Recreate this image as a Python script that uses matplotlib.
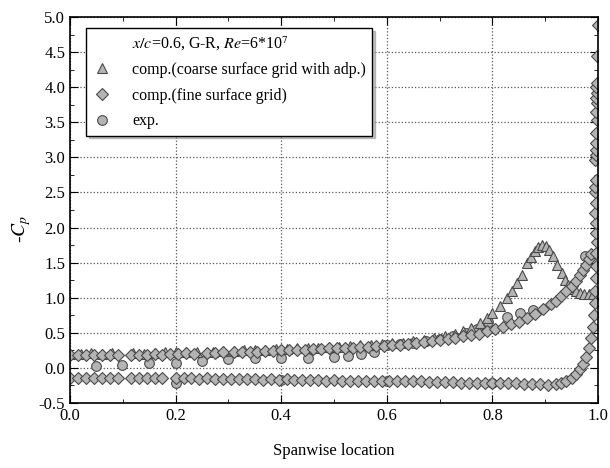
import matplotlib.pyplot as plt
from matplotlib.lines import Line2D
from matplotlib.ticker import MultipleLocator

plt.rcParams['font.family'] = ['Liberation Serif', 'DejaVu Serif']
plt.rcParams['mathtext.fontset'] = 'stix'

# comp. (fine surface grid) - upper surface
fine_up_x = [0.0, 0.015, 0.03, 0.045, 0.06, 0.075, 0.09, 0.115, 0.13, 0.145, 0.16, 0.175,
             0.19, 0.205, 0.22, 0.235, 0.26, 0.275, 0.29, 0.31, 0.325, 0.34, 0.355, 0.37,
             0.385, 0.40, 0.415, 0.43, 0.445, 0.46, 0.475, 0.49, 0.505, 0.52, 0.535, 0.55,
             0.565, 0.58, 0.595, 0.61, 0.625, 0.64, 0.655, 0.67, 0.685, 0.70, 0.715, 0.73,
             0.745, 0.76, 0.775, 0.79, 0.805, 0.82, 0.835, 0.85, 0.865, 0.88, 0.895, 0.91,
             0.92, 0.93, 0.94, 0.95, 0.958, 0.966, 0.972, 0.978, 0.983, 0.987]
fine_up_y = [0.18, 0.19, 0.18, 0.19, 0.18, 0.19, 0.18, 0.19, 0.18, 0.19, 0.20, 0.19,
             0.20, 0.20, 0.21, 0.20, 0.21, 0.21, 0.22, 0.22, 0.22, 0.23, 0.23, 0.24,
             0.24, 0.25, 0.25, 0.26, 0.26, 0.27, 0.27, 0.28, 0.28, 0.29, 0.29, 0.30,
             0.30, 0.31, 0.31, 0.32, 0.33, 0.34, 0.35, 0.37, 0.38, 0.40, 0.41, 0.43,
             0.45, 0.47, 0.49, 0.52, 0.55, 0.58, 0.62, 0.66, 0.71, 0.77, 0.84, 0.91,
             0.96, 1.02, 1.09, 1.17, 1.24, 1.32, 1.39, 1.47, 1.55, 1.63]

# comp. (fine surface grid) - lower surface
fine_lo_x = [0.0, 0.015, 0.03, 0.045, 0.06, 0.075, 0.09, 0.115, 0.13, 0.145, 0.16, 0.175,
             0.2, 0.215, 0.23, 0.245, 0.26, 0.275, 0.29, 0.305, 0.32, 0.335, 0.35, 0.365,
             0.38, 0.395, 0.41, 0.425, 0.44, 0.455, 0.47, 0.485, 0.50, 0.515, 0.53, 0.545,
             0.56, 0.575, 0.59, 0.605, 0.62, 0.635, 0.65, 0.665, 0.68, 0.695, 0.71, 0.725,
             0.74, 0.755, 0.77, 0.785, 0.80, 0.815, 0.83, 0.845, 0.86, 0.875, 0.89, 0.905,
             0.92, 0.93, 0.94, 0.95, 0.958, 0.965, 0.972, 0.978, 0.983, 0.987, 0.99]
fine_lo_y = [-0.14, -0.15, -0.14, -0.15, -0.14, -0.15, -0.14, -0.15, -0.14, -0.15, -0.15, -0.14,
             -0.15, -0.15, -0.15, -0.16, -0.15, -0.16, -0.16, -0.16, -0.16, -0.16, -0.16, -0.17,
             -0.16, -0.17, -0.16, -0.17, -0.17, -0.17, -0.17, -0.18, -0.17, -0.18, -0.18, -0.18,
             -0.18, -0.18, -0.18, -0.19, -0.19, -0.19, -0.19, -0.19, -0.20, -0.20, -0.20, -0.20,
             -0.21, -0.21, -0.21, -0.21, -0.21, -0.22, -0.22, -0.22, -0.23, -0.23, -0.23, -0.24,
             -0.23, -0.22, -0.19, -0.14, -0.08, -0.02, 0.05, 0.15, 0.28, 0.42, 0.58]

# comp. (fine surface grid) - points along the tip
fine_tip_x = [0.992, 0.994, 0.995, 0.996, 0.997, 0.997, 0.998, 0.996, 0.997, 0.995, 0.996,
              0.994, 0.995, 0.996, 0.995, 0.996, 0.997, 0.996, 0.997, 0.998, 0.997, 0.998,
              0.997, 0.998, 0.997, 0.998, 0.998, 0.999]
fine_tip_y = [0.75, 0.92, 1.10, 1.28, 1.45, 1.64, 1.80, 1.92, 2.07, 2.21, 2.35,
              2.51, 2.58, 2.68, 2.96, 3.04, 3.11, 3.21, 3.35, 3.53, 3.64, 3.77,
              3.85, 3.92, 4.00, 4.06, 4.45, 4.89]

# comp. (coarse surface grid with adp.)
coarse_x = [0.0, 0.02, 0.04, 0.06, 0.08, 0.12, 0.14, 0.16, 0.18, 0.20, 0.22, 0.24,
            0.27, 0.29, 0.31, 0.33, 0.35, 0.37, 0.39, 0.41, 0.43, 0.45, 0.47, 0.49,
            0.51, 0.53, 0.55, 0.57, 0.59, 0.61, 0.63, 0.65, 0.67, 0.69, 0.71, 0.73,
            0.745, 0.76, 0.777, 0.79, 0.80, 0.815, 0.827, 0.837, 0.846, 0.856, 0.865,
            0.873, 0.88, 0.887, 0.894, 0.901, 0.908, 0.915, 0.923, 0.931, 0.938, 0.944,
            0.95, 0.958, 0.966, 0.974, 0.982, 0.991]
coarse_y = [0.20, 0.20, 0.21, 0.20, 0.21, 0.21, 0.20, 0.21, 0.22, 0.22, 0.22, 0.23,
            0.23, 0.24, 0.24, 0.25, 0.25, 0.26, 0.27, 0.27, 0.28, 0.28, 0.29, 0.30,
            0.30, 0.31, 0.32, 0.33, 0.34, 0.35, 0.36, 0.38, 0.40, 0.42, 0.45, 0.48,
            0.52, 0.57, 0.64, 0.71, 0.78, 0.88, 0.99, 1.10, 1.21, 1.33, 1.49,
            1.58, 1.66, 1.72, 1.75, 1.73, 1.68, 1.59, 1.47, 1.35, 1.25, 1.18,
            1.13, 1.09, 1.07, 1.06, 1.06, 1.06]

# exp.
exp_x = [0.05, 0.098, 0.15, 0.20, 0.25, 0.30, 0.35, 0.40, 0.45, 0.50, 0.527, 0.551,
         0.576, 0.60, 0.625, 0.65, 0.675, 0.70, 0.725, 0.75, 0.77, 0.792, 0.827, 0.852,
         0.877, 0.975, 0.20, 0.40, 0.60, 0.80]
exp_y = [0.03, 0.04, 0.07, 0.075, 0.10, 0.12, 0.14, 0.14, 0.14, 0.16, 0.17, 0.20,
         0.23, 0.33, 0.34, 0.36, 0.38, 0.41, 0.45, 0.50, 0.55, 0.66, 0.73, 0.78,
         0.83, 1.59, -0.21, -0.17, -0.19, -0.22]

FACE = '#b4b4b4'
EDGE = '#4a4a4a'


def plot(ax):
    mk = dict(linestyle='none', markerfacecolor=FACE, markeredgecolor=EDGE, markeredgewidth=0.8)
    ax.plot(exp_x, exp_y, marker='o', markersize=7, **mk)
    ax.plot(coarse_x, coarse_y, marker='^', markersize=7, **mk)
    ax.plot(fine_up_x, fine_up_y, marker='D', markersize=6, **mk)
    ax.plot(fine_lo_x, fine_lo_y, marker='D', markersize=6, **mk)
    ax.plot(fine_tip_x, fine_tip_y, marker='D', markersize=6, **mk)

    ax.set_xlim(0.0, 1.0)
    ax.set_ylim(-0.5, 5.0)
    ax.xaxis.set_major_locator(MultipleLocator(0.2))
    ax.xaxis.set_minor_locator(MultipleLocator(0.1))
    ax.yaxis.set_major_locator(MultipleLocator(0.5))
    ax.yaxis.set_minor_locator(MultipleLocator(0.25))
    ax.xaxis.set_major_formatter(plt.FormatStrFormatter('%.1f'))
    ax.yaxis.set_major_formatter(plt.FormatStrFormatter('%.1f'))
    ax.tick_params(which='both', direction='in', top=True, right=True, labelsize=12)
    ax.tick_params(which='major', length=6)
    ax.tick_params(which='minor', length=3)
    ax.grid(True, which='major', linestyle=':', color='#555555', linewidth=0.9)
    for s in ax.spines.values():
        s.set_linewidth(1.2)

    ax.set_xlabel('Spanwise location', fontsize=12, labelpad=14)
    ax.set_ylabel(r'-$C_p$', fontsize=14)
    ax.yaxis.set_label_coords(-0.07, 0.45)

    handles = [
        Line2D([], [], linestyle='none', marker=None),
        Line2D([], [], marker='^', markersize=7, **mk),
        Line2D([], [], marker='D', markersize=6, **mk),
        Line2D([], [], marker='o', markersize=7, **mk),
    ]
    labels = [r'$x/c$=0.6, G-R, $Re$=6*10$^7$',
              'comp.(coarse surface grid with adp.)',
              'comp.(fine surface grid)',
              'exp.']
    leg = ax.legend(handles, labels, loc='upper left', bbox_to_anchor=(0.03, 0.972),
                    borderaxespad=0, fontsize=11.5, frameon=True, fancybox=False,
                    shadow={'color': '#888888'}, edgecolor='black', handlelength=1.2,
                    handletextpad=1.3, labelspacing=0.6, borderpad=0.4)
    leg.get_frame().set_linewidth(1.0)
    leg.set_zorder(5)


def main():
    fig = plt.figure(figsize=(6.1, 4.68), dpi=100)
    ax = fig.add_axes([0.1148, 0.1389, 0.8656, 0.8248])
    plot(ax)
    fig.savefig('out.png', dpi=100)


if __name__ == '__main__':
    main()
